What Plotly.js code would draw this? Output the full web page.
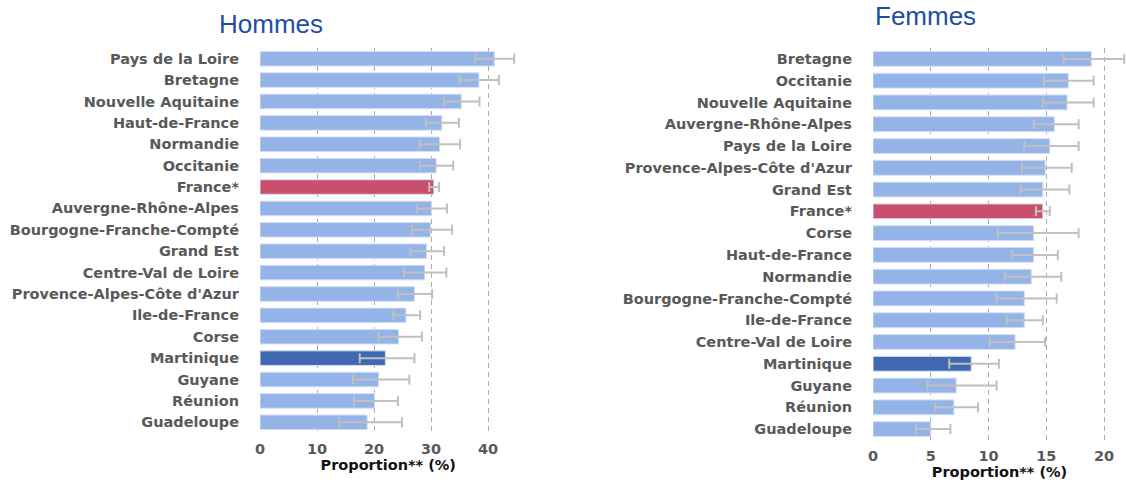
<!DOCTYPE html>
<html>
<head>
<meta charset="utf-8">
<script src="https://cdn.plot.ly/plotly-3.0.1.min.js"></script>
<style>html,body{margin:0;padding:0;background:#fff;}#chart{width:1126px;height:483px;}</style>
</head>
<body>
<div id="chart"></div>
<script>
// ---- Data ----
const hommesRegions = ["Pays de la Loire","Bretagne","Nouvelle Aquitaine","Haut-de-France","Normandie","Occitanie","France*","Auvergne-Rhône-Alpes","Bourgogne-Franche-Compté","Grand Est","Centre-Val de Loire","Provence-Alpes-Côte d'Azur","Ile-de-France","Corse","Martinique","Guyane","Réunion","Guadeloupe"];
const hommesValues = [41.1,38.4,35.3,31.9,31.5,30.9,30.5,30.1,29.9,29.2,28.9,27.1,25.6,24.3,22.0,20.8,20.1,18.8];
const hommesLow    = [37.8,35.0,32.3,29.1,28.0,28.1,29.7,27.5,26.6,26.4,25.3,24.2,23.4,20.8,17.5,16.3,16.5,13.9];
const hommesHigh   = [44.6,41.9,38.5,34.9,35.1,33.9,31.4,32.8,33.7,32.3,32.7,30.2,28.1,28.4,27.1,26.2,24.2,24.9];

const femmesRegions = ["Bretagne","Occitanie","Nouvelle Aquitaine","Auvergne-Rhône-Alpes","Pays de la Loire","Provence-Alpes-Côte d'Azur","Grand Est","France*","Corse","Haut-de-France","Normandie","Bourgogne-Franche-Compté","Ile-de-France","Centre-Val de Loire","Martinique","Guyane","Réunion","Guadeloupe"];
const femmesValues = [18.9,16.9,16.8,15.7,15.3,14.9,14.7,14.7,13.9,13.9,13.7,13.1,13.1,12.3,8.5,7.2,7.0,5.0];
const femmesLow    = [16.5,14.8,14.7,13.9,13.1,12.9,12.8,14.1,10.8,12.0,11.4,10.7,11.6,10.1,6.6,4.7,5.4,3.7];
const femmesHigh   = [21.75,19.1,19.1,17.8,17.8,17.2,17.0,15.3,17.8,16.0,16.3,15.9,14.7,14.9,10.9,10.7,9.1,6.7];

const panelTitles = ["Hommes","Femmes"];
const xTitle = "Proportion** (%)";
const hommesTicks = [0,10,20,30,40];
const femmesTicks = [0,5,10,15,20];

// ---- Styling ----
const W = 1126, H = 483;
const cBar = "#94b3e6", cFrance = "#c94f6d", cMart = "#4068b0";
const colorFor = r => r === "France*" ? cFrance : (r === "Martinique" ? cMart : cBar);

function trace(regions, vals, lo, hi, xa, ya){
  return {
    type: "bar", orientation: "h",
    y: regions, x: vals, xaxis: xa, yaxis: ya,
    marker: {color: regions.map(colorFor), line: {color: "#d3def3", width: 1}},
    error_x: {type: "data", symmetric: false,
      array: hi.map((h,i)=>+(h - vals[i]).toFixed(3)),
      arrayminus: lo.map((l,i)=>+(vals[i] - l).toFixed(3)),
      color: "#c0c0c0", thickness: 2, width: 5},
    hoverinfo: "x+y", showlegend: false
  };
}

const catFont  = {family: "DejaVu Sans", size: 14.5, color: "#595959", weight: "bold"};
const titleFont = {family: "DejaVu Sans", size: 14.5, color: "#111", weight: "bold"};

function xaxis(domain, range, ticks){
  return {domain, range, tickvals: ticks, ticktext: ticks.map(String), showgrid: true,
    gridcolor: "#ababab", griddash: "5px,4px", gridwidth: 1, zeroline: false,
    showline: false, ticks: "", ticklabelstandoff: 5,
    tickfont: {family: "DejaVu Sans", size: 14.5, color: "#595959", weight: "bold"},
    title: {text: xTitle, font: titleFont, standoff: 4}, automargin: false, fixedrange: true};
}
function yaxis(domain, anchor){
  return {domain, anchor, autorange: "reversed", type: "category", showgrid: false, zeroline: false,
    showline: false, ticks: "", ticklabelstandoff: 20, tickfont: catFont, automargin: false, fixedrange: true};
}

const layout = {
  width: W, height: H, margin: {l:0, r:0, t:0, b:0},
  paper_bgcolor: "#fff", plot_bgcolor: "rgba(0,0,0,0)",
  bargap: 0.32, showlegend: false,
  font: {family: "DejaVu Sans"},
  xaxis: Object.assign(xaxis([260/W, 516.5/W], [0, 45], hommesTicks), {anchor: "y"}),
  yaxis: yaxis([1-433/H, 1-48/H], "x"),
  xaxis2: Object.assign(xaxis([873/W, 1], [0, 21.9], femmesTicks), {anchor: "y2"}),
  yaxis2: yaxis([1-440/H, 1-48/H], "x2"),
  annotations: [
    {text: panelTitles[0], xref: "paper", yref: "paper", x: 217/W, y: 1-24/H, xanchor: "left", yanchor: "middle",
     showarrow: false, font: {family: "Liberation Sans", size: 26, color: "#1f4ea0"}},
    {text: panelTitles[1], xref: "paper", yref: "paper", x: 873/W, y: 1-16/H, xanchor: "left", yanchor: "middle",
     showarrow: false, font: {family: "Liberation Sans", size: 26, color: "#1f4ea0"}}
  ]
};

Plotly.newPlot("chart", [
  trace(hommesRegions, hommesValues, hommesLow, hommesHigh, "x", "y"),
  trace(femmesRegions, femmesValues, femmesLow, femmesHigh, "x2", "y2")
], layout, {displayModeBar: false, staticPlot: true});
</script>
</body>
</html>
